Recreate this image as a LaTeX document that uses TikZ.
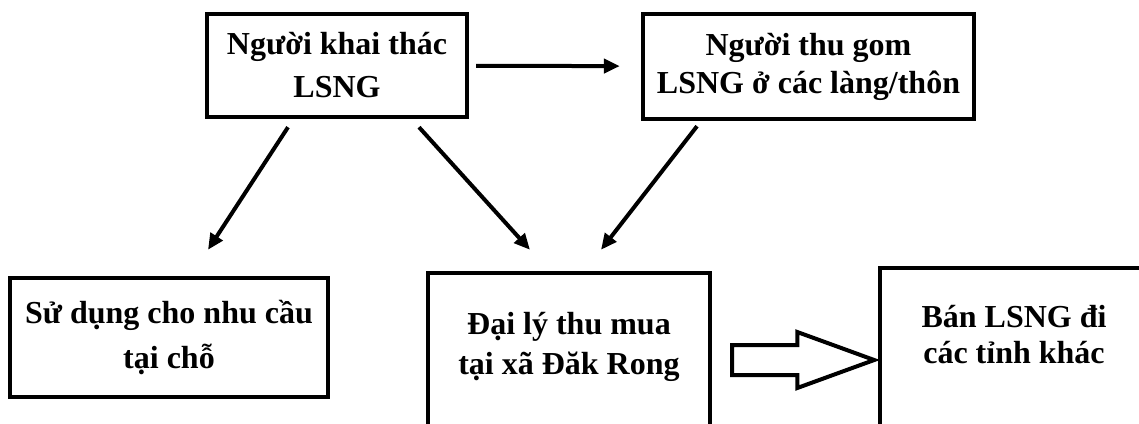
\documentclass[tikz,border=0pt]{standalone}
\usepackage{fontspec}
\setmainfont{Liberation Serif}
\usetikzlibrary{arrows.meta,positioning,shapes.arrows}

\begin{document}
\begin{tikzpicture}[x=0.5pt,y=-0.5pt,>={Triangle[length=8pt,width=7pt]}]
	\tikzstyle{box}=[draw,line width=2.2pt,align=center,inner sep=0pt,font=\bfseries\fontsize{16}{20}\selectfont]
	\tikzstyle{flow}=[->,line width=2pt]
	\tikzstyle{hollow}=[draw,single arrow,line width=2pt,minimum height=71pt,inner xsep=0pt,inner ysep=6.5pt,single arrow head extend=6.5pt,single arrow tip angle=40]

	\useasboundingbox (0,0) rectangle (1139,423);
	\clip (0,0) rectangle (1139,423);

	\node[box,minimum width=130pt,minimum height=51.5pt,font=\bfseries\fontsize{16}{21.5}\selectfont] (harvest) at (337,65.5) {Người khai thác\\LSNG};
	\node[box,minimum width=165.5pt,minimum height=52.5pt,font=\bfseries\fontsize{16}{19}\selectfont] (collect) at (808.5,66.5) {Người thu gom\\LSNG ở các làng/thôn};
	\node[box,minimum width=159pt,minimum height=59.5pt,font=\bfseries\fontsize{16}{22.5}\selectfont] (use) at (169,337.5) {Sử dụng cho nhu cầu\\tại chỗ};
	\node[box,minimum width=141pt,minimum height=85pt,text depth=14.3pt] (agent) at (569,358) {Đại lý thu mua\\tại xã Đăk Rong};
	\node[box,minimum width=134pt,minimum height=85pt,text depth=19pt,font=\bfseries\fontsize{16}{18}\selectfont] (sell) at (1014,353) {Bán LSNG đi\\các tỉnh khác};

	% top row
	\draw[flow,shorten <=3.5pt,shorten >=10.5pt] (harvest) -- (collect);
	% down to the bottom row
	\draw[flow] ([xshift=-24.5pt,yshift=-4pt]harvest.south) -- ([xshift=19.5pt,yshift=13pt]use.north);
	\draw[flow] ([xshift=41pt,yshift=-4pt]harvest.south) -- ([xshift=-19.5pt,yshift=10.5pt]agent.north);
	\draw[flow] ([xshift=-55.75pt,yshift=-2.5pt]collect.south) -- ([xshift=16pt,yshift=10.5pt]agent.north);
	% agent to other provinces
	\node[hollow,anchor=tail] (push) at ([xshift=9pt,yshift=-1pt]agent.east) {};
\end{tikzpicture}
\end{document}
